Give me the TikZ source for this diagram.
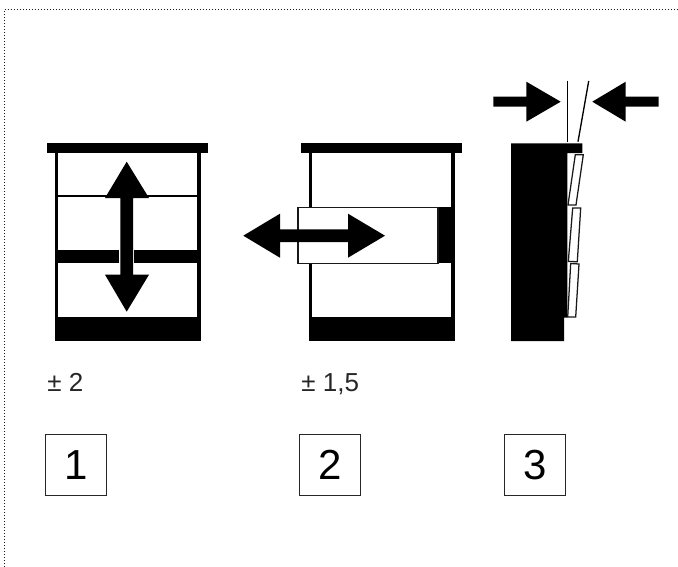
\documentclass[tikz,border=0pt]{standalone}
\usepackage{fontspec}
\setmainfont{Liberation Sans}
\tikzset{
  x=0.75pt,y=-0.75pt,
  solid black/.style={fill=black,draw=none},
  thin edge/.style={draw=black!90,line width=0.95pt},
  numbox/.style={draw=black!85,line width=0.85pt,fill=white,minimum size=45.6pt,inner sep=0pt,font=\fontsize{31.5}{31.5}\selectfont},
  tol/.style={anchor=base west,inner sep=0pt,text=black!85,font=\fontsize{19.5}{19.5}\selectfont},
  frame line/.style={draw=black!90,line width=1pt,dash pattern=on 1.1pt off 1.15pt},
}
\begin{document}
\begin{tikzpicture}
\useasboundingbox (0,0) rectangle (678,567);
\fill[white] (0,0) rectangle (678,567);
\draw[frame line] (4.5,567) -- (4.5,9.5) -- (678,9.5);
% cabinet 1
\fill[solid black] (47,143) rectangle (208,153);
\fill[solid black] (55,153) rectangle (201,341);
\fill[white] (58.3,153.3) rectangle (197,317);
\draw[black,line width=0.9pt] (58.3,196) -- (197,196);
\fill[solid black] (58.3,250) rectangle (197,263);
\fill[white] (119,250) rectangle (134,263);
\fill[solid black] (126.7,161.7) -- (149,198) -- (133,198) -- (133,274.7) -- (149,274.7) -- (126.7,311.7) -- (105,274.7) -- (120.3,274.7) -- (120.3,198) -- (105,198) -- cycle;
% cabinet 2
\fill[solid black] (301,143) rectangle (462,153);
\fill[solid black] (309,153) rectangle (455,341);
\fill[white] (312.3,153.3) rectangle (451,317);
\fill[solid black] (438,207.3) rectangle (451,263.3);
\draw[thin edge,fill=white] (297.9,207.5) rectangle (438,263.2);
\fill[solid black] (243.3,235.7) -- (280,213.7) -- (280,229.4) -- (348,229.4) -- (348,213.7) -- (385,235.7) -- (348,257.7) -- (348,242) -- (280,242) -- (280,257.7) -- cycle;
% cabinet 3
\fill[solid black] (511,143.3) -- (582.3,143.3) -- (582.3,153) -- (567.3,153) -- (567.3,317.7) -- (564,317.7) -- (564,341) -- (511,341) -- cycle;
\draw[thin edge,fill=white] (575.3,154.7) -- (583.3,154.7) -- (576,205) -- (568,205) -- cycle;
\draw[thin edge,fill=white] (572.7,208) -- (580.7,208) -- (577.3,261.7) -- (568.3,261.5) -- cycle;
\draw[thin edge,fill=white] (570.7,263.5) -- (579,264) -- (575.7,317) -- (567.7,317) -- cycle;
\draw[black,line width=1pt] (567.3,80.7) -- (567.3,141.7);
\draw[black,line width=1pt] (588.7,81) -- (578,141.7);
\fill[solid black] (493.3,96.7) -- (526.3,96.7) -- (526.3,81.7) -- (560.7,101.7) -- (526.3,121.7) -- (526.3,106.7) -- (493.3,106.7) -- cycle;
\fill[solid black] (658.7,96.7) -- (625.7,96.7) -- (625.7,81.7) -- (592.3,101.7) -- (625.7,121.7) -- (625.7,106.7) -- (658.7,106.7) -- cycle;
% labels
\node[tol] (t1) at (47.2,391.7) {± 2};
\node[tol] (t2) at (301.2,391.7) {± 1,5};
\node[numbox] (n1) at (76.3,465.2) {1};
\node[numbox] (n2) at (330.3,465.2) {2};
\node[numbox] (n3) at (535.3,464.7) {3};
\end{tikzpicture}
\end{document}
